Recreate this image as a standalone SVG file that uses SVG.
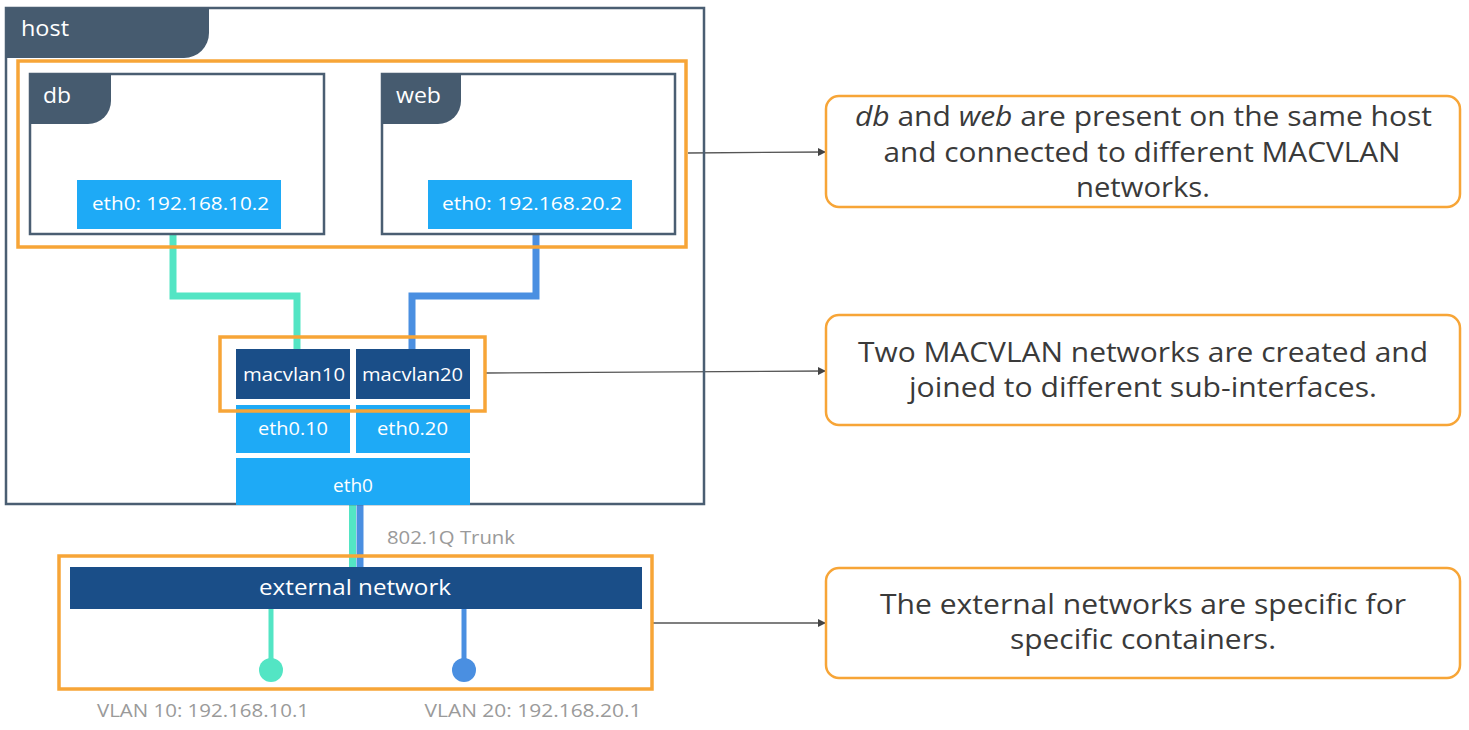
<svg xmlns="http://www.w3.org/2000/svg" width="1469" height="730" viewBox="0 0 1469 730">
<defs>
<style>
.frame{fill:#fff;stroke:#4a5e72;stroke-width:2.5}
.tab{fill:#465b6f}
.tabt{fill:#fff;font-family:"Open Sans","Noto Sans",sans-serif;font-size:21px}
.lb{fill:#1eaaf6}
.db{fill:#1a4e88}
.bt{fill:#fff;font-family:"Open Sans","Noto Sans",sans-serif;font-size:19px;text-anchor:middle}
.hl{fill:none;stroke:#f7a537;stroke-width:3.5}
.call{fill:#fff;stroke:#f7a537;stroke-width:2.5}
.ct{fill:#3a3a3a;font-family:"Open Sans","Noto Sans",sans-serif;font-size:27px;text-anchor:middle}
.gt{fill:#9a9a9a;font-family:"Open Sans","Noto Sans",sans-serif;font-size:18px}
.teal{fill:none;stroke:#53e5c4;stroke-width:7}
.blue{fill:none;stroke:#4a8fe1;stroke-width:7}
.arr{fill:none;stroke:#555;stroke-width:1.3;marker-end:url(#ah)}
</style>
<marker id="ah" viewBox="0 0 10 10" refX="10" refY="5" markerWidth="8" markerHeight="8" markerUnits="userSpaceOnUse" orient="auto">
<path d="M0,0 L10,5 L0,10 z" fill="#444"/>
</marker>
</defs>

<g id="connectors">
<polyline class="teal" points="173,229 173,296 297,296 297,349"/>
<polyline class="blue" points="536,229 536,296 412,296 412,349"/>
<line class="teal" x1="352.5" y1="504" x2="352.5" y2="572"/>
<line class="blue" x1="360" y1="504" x2="360" y2="572"/>
<line x1="271" y1="608" x2="271" y2="670" stroke="#53e5c4" stroke-width="5"/>
<line x1="464" y1="608" x2="464" y2="670" stroke="#4a8fe1" stroke-width="5"/>
<path class="arr" d="M688,153 L826,152"/>
<path class="arr" d="M486,373 L826,371"/>
<path class="arr" d="M652,623 L826,623"/>
</g>

<g id="host">
<rect class="frame" x="6" y="8" width="698" height="496" style="fill:none"/>
<path class="tab" d="M6,8 H209 V33 A25,25 0 0 1 184,58 H6 Z"/>
<text class="tabt" x="21" y="36" textLength="48" lengthAdjust="spacingAndGlyphs">host</text>
</g>

<g id="db">
<rect class="frame" x="30" y="74" width="294" height="160"/>
<path class="tab" d="M30,74 H111 V101 A23,23 0 0 1 88,124 H30 Z"/>
<text class="tabt" x="43" y="103" textLength="28" lengthAdjust="spacingAndGlyphs">db</text>
<rect class="lb" x="77" y="180" width="204" height="49"/>
<text class="bt" x="180.5" y="210" textLength="177" lengthAdjust="spacingAndGlyphs">eth0: 192.168.10.2</text>
</g>

<g id="web">
<rect class="frame" x="382" y="74" width="293" height="160"/>
<path class="tab" d="M382,74 H461 V101 A23,23 0 0 1 438,124 H382 Z"/>
<text class="tabt" x="396" y="103" textLength="45" lengthAdjust="spacingAndGlyphs">web</text>
<rect class="lb" x="428" y="180" width="204" height="49"/>
<text class="bt" x="532" y="210" textLength="180" lengthAdjust="spacingAndGlyphs">eth0: 192.168.20.2</text>
</g>

<g id="macvlan10">
<rect class="db" x="236" y="349" width="114" height="50"/>
<text class="bt" x="294" y="381" textLength="102" lengthAdjust="spacingAndGlyphs">macvlan10</text>
</g>
<g id="macvlan20">
<rect class="db" x="356" y="349" width="114" height="50"/>
<text class="bt" x="412.5" y="381" textLength="101" lengthAdjust="spacingAndGlyphs">macvlan20</text>
</g>
<g id="eth0-10">
<rect class="lb" x="236" y="405" width="114" height="48"/>
<text class="bt" x="293" y="435" textLength="70" lengthAdjust="spacingAndGlyphs">eth0.10</text>
</g>
<g id="eth0-20">
<rect class="lb" x="356" y="405" width="114" height="48"/>
<text class="bt" x="412.5" y="435" textLength="71" lengthAdjust="spacingAndGlyphs">eth0.20</text>
</g>
<g id="eth0">
<rect class="lb" x="236" y="458" width="234" height="47"/>
<text class="bt" x="353" y="492" textLength="40" lengthAdjust="spacingAndGlyphs">eth0</text>
</g>

<g id="trunk-label">
<text class="gt" x="387" y="544" textLength="128" lengthAdjust="spacingAndGlyphs">802.1Q Trunk</text>
</g>

<g id="external-network">
<rect class="db" x="70" y="567" width="572" height="42"/>
<text class="bt" x="355" y="595" style="font-size:22px" textLength="192" lengthAdjust="spacingAndGlyphs">external network</text>
</g>

<g id="vlan10">
<circle cx="271" cy="670" r="12" fill="#53e5c4"/>
<text class="gt" x="203" y="717" text-anchor="middle" textLength="212" lengthAdjust="spacingAndGlyphs">VLAN 10: 192.168.10.1</text>
</g>
<g id="vlan20">
<circle cx="464" cy="670" r="12" fill="#4a8fe1"/>
<text class="gt" x="533" y="717" text-anchor="middle" textLength="217" lengthAdjust="spacingAndGlyphs">VLAN 20: 192.168.20.1</text>
</g>

<g id="highlights">
<rect class="hl" x="18" y="61" width="668" height="186"/>
<rect class="hl" x="220" y="337" width="265" height="74"/>
<rect class="hl" x="59" y="556" width="593" height="133"/>
</g>

<g id="callout1">
<rect class="call" x="826" y="96" width="634" height="111" rx="13"/>
<text class="ct" x="1143.5" y="126" textLength="577" lengthAdjust="spacingAndGlyphs"><tspan font-style="italic">db</tspan> and <tspan font-style="italic">web</tspan> are present on the same host</text>
<text class="ct" x="1142" y="162" textLength="517" lengthAdjust="spacingAndGlyphs">and connected to different MACVLAN</text>
<text class="ct" x="1143" y="197" textLength="134" lengthAdjust="spacingAndGlyphs">networks.</text>
</g>
<g id="callout2">
<rect class="call" x="826" y="315" width="634" height="110" rx="13"/>
<text class="ct" x="1143" y="362" textLength="570" lengthAdjust="spacingAndGlyphs">Two MACVLAN networks are created and</text>
<text class="ct" x="1143" y="397" textLength="468" lengthAdjust="spacingAndGlyphs">joined to different sub-interfaces.</text>
</g>
<g id="callout3">
<rect class="call" x="826" y="568" width="634" height="110" rx="13"/>
<text class="ct" x="1143" y="614" textLength="526" lengthAdjust="spacingAndGlyphs">The external networks are specific for</text>
<text class="ct" x="1143" y="649" textLength="266" lengthAdjust="spacingAndGlyphs">specific containers.</text>
</g>
</svg>
